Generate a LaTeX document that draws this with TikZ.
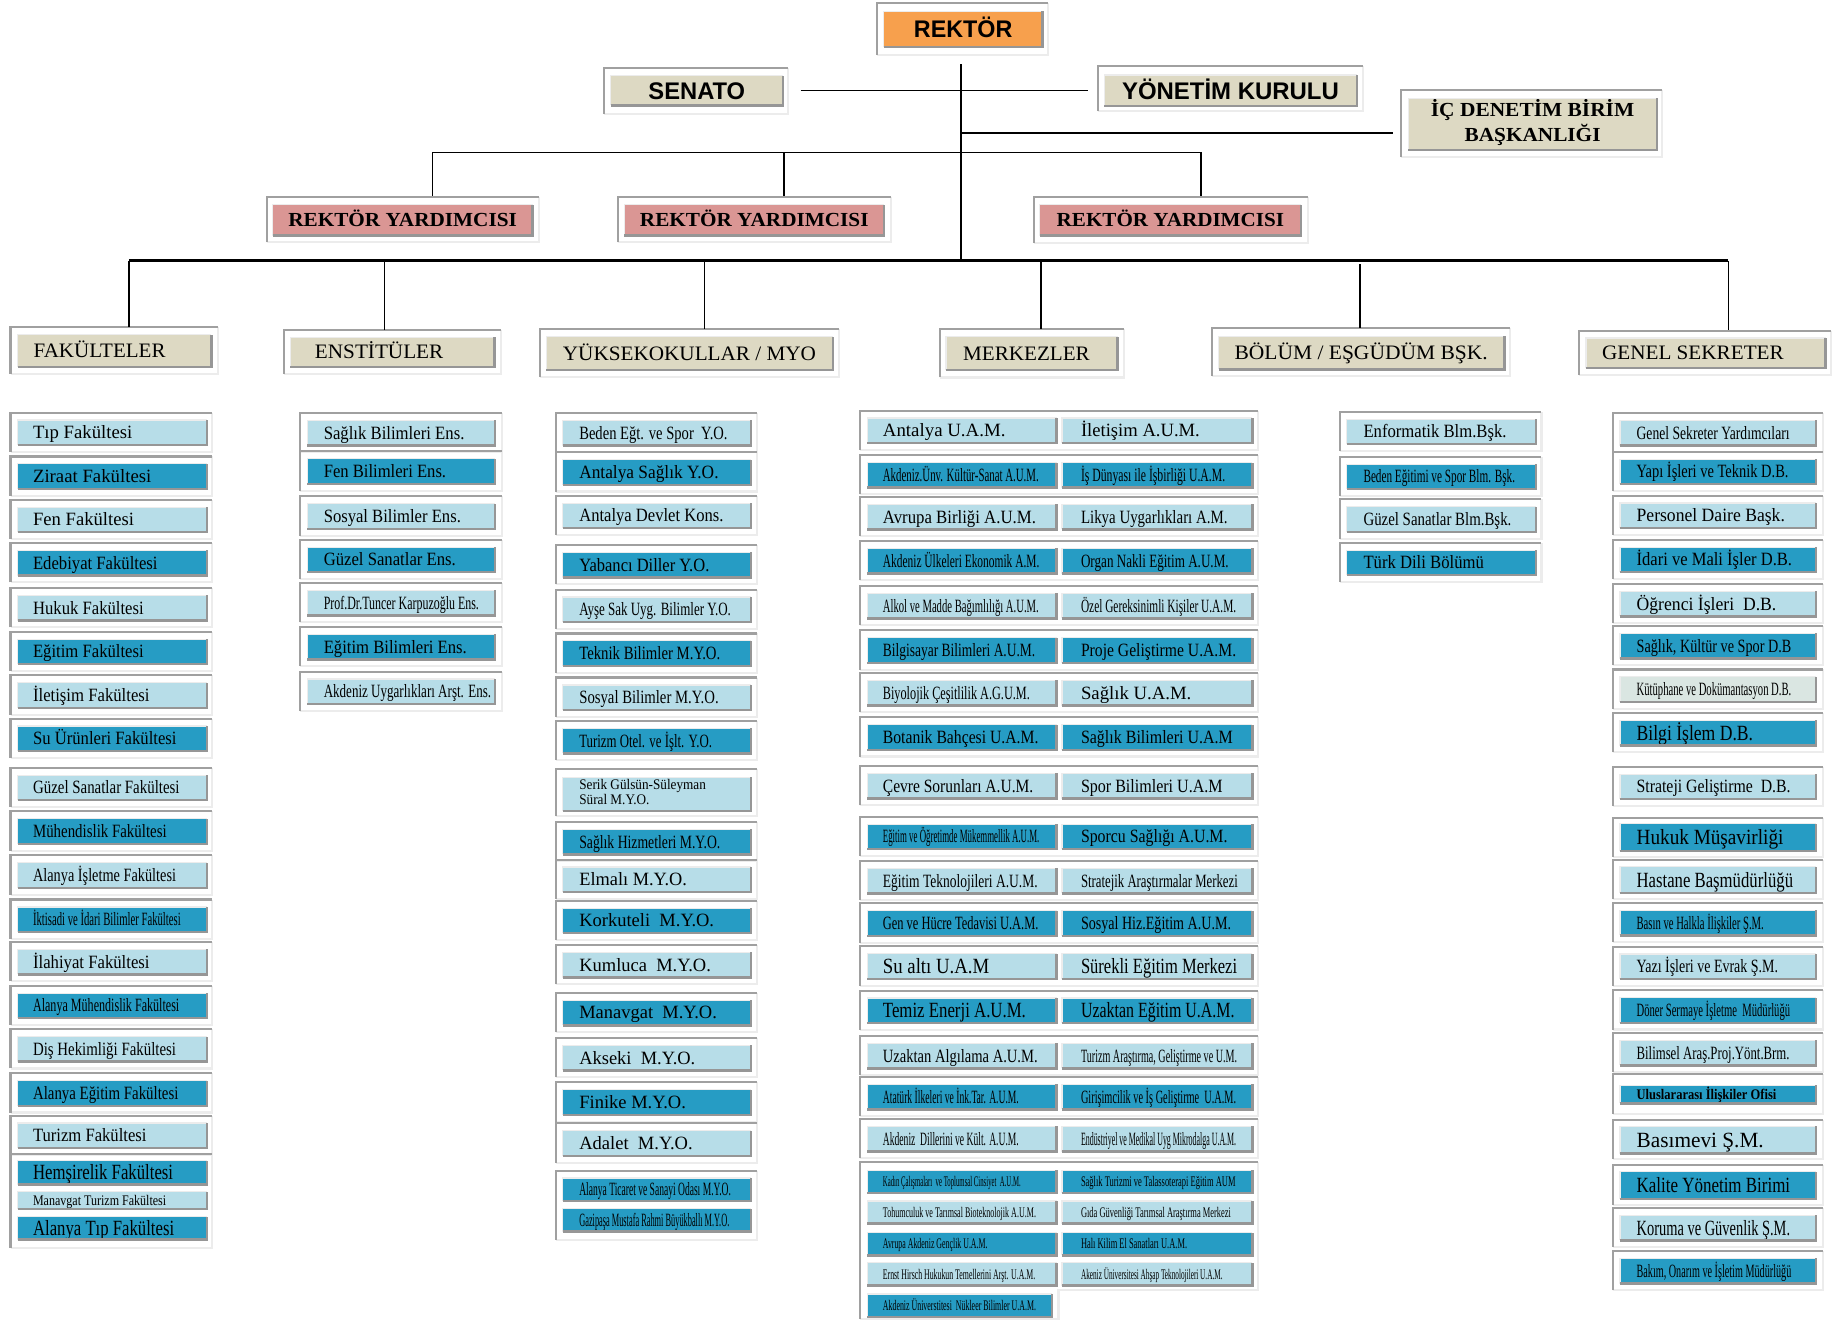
\documentclass[tikz,border=0pt]{standalone}
\usepackage{fontspec}
\usepackage{graphicx}
\setmainfont{Liberation Serif}
\newfontfamily\arialfont{Liberation Sans}
\definecolor{lightbar}{RGB}{183,221,232}
\definecolor{darkbar}{RGB}{38,156,196}
\definecolor{palebar}{RGB}{218,230,226}
\definecolor{beige}{RGB}{221,217,195}
\definecolor{rektor}{RGB}{247,160,77}
\definecolor{vicerektor}{RGB}{218,150,148}
\definecolor{framegray}{RGB}{160,160,160}
\definecolor{framelight}{RGB}{236,236,236}
\definecolor{shadegray}{RGB}{150,150,150}
\newsavebox{\fitbox}
% squeeze a label to the width it has in the chart
\newcommand{\fitto}[2]{\ifx\relax#1\relax#2\else\sbox\fitbox{#2}\resizebox{#1pt}{\height}{\usebox\fitbox}\fi}
\newcommand{\uframe}[4]{
  \draw[framelite] (#3,#2) -- (#3,#4) -- (#1,#4);
  \draw[framedark] (#1,#4) -- (#1,#2) -- (#3,#2);
}
\newcommand{\ubar}[8][]{
  \draw (#3,#4) node[bar,fill=#6,#1] (#2) {\makebox[#5pt][l]{\hspace*{\bpad pt}\fitto{#7}{#8}}};
  \draw[barlite] (#2.south west) -- (#2.north west) -- (#2.north east);
  \draw[barshade] (#2.south west) -- (#2.south east) -- (#2.north east);
}
\newcommand{\cbar}[7][]{
  \draw (#3,#4) node[bar,fill=#6,#1] (#2) {\makebox[#5pt]{#7}};
  \draw[barlite] (#2.south west) -- (#2.north west) -- (#2.north east);
  \draw[barshade] (#2.south west) -- (#2.south east) -- (#2.north east);
}
\newcommand{\orgunit}[6][]{
  \uframe{\fx}{#3-17}{\fx+\fw}{#3+16.5}
  \ubar[#1]{#2}{\fx+6}{#3}{\bw}{#4}{#5}{#6}
}
\newcommand{\pairbars}[8][]{
  \def\bpad{13}\ubar[#1]{#4l}{740}{#2}{161}{#3}{#5}{#6}
  \def\bpad{16}\ubar[#1]{#4r}{906}{#2}{162}{#3}{#7}{#8}
}
\newcommand{\pairrow}[8][]{
  \uframe{734}{#2-17}{1073}{#2+16.5}
  \pairbars[#1]{#2}{#3}{#4}{#5}{#6}{#7}{#8}
}
\tikzstyle{bar}=[inner sep=0pt, minimum height=21, anchor=west, font=\fontsize{16}{18}\selectfont, text height=10.6pt, text depth=0pt]
\tikzstyle{small}=[font=\fontsize{12.5}{13}\selectfont, text height=8.3pt]
\tikzstyle{big}=[font=\fontsize{18.5}{20}\selectfont, text height=12.3pt]
\tikzstyle{topbox}=[font=\arialfont\bfseries\fontsize{20.5}{22}\selectfont, text height=14.7pt]
\tikzstyle{vicebox}=[font=\bfseries\fontsize{17}{21}\selectfont, text height=11.3pt]
\tikzstyle{headbox}=[font=\fontsize{17.5}{20}\selectfont, text height=11.6pt]
\tikzset{framedark/.style={line width=1.8, color=framegray}}
\tikzset{framelite/.style={line width=1.8, color=framelight}}
\tikzset{barshade/.style={line width=2, color=shadegray}}
\tikzset{barlite/.style={line width=1, color=framelight}}
\tikzset{wire/.style={line width=1.5}}
\tikzset{bus/.style={line width=2.4}}
\tikzset{x=1pt}
\tikzset{y=-1pt}
\begin{document}
\begin{tikzpicture}
  \useasboundingbox (0,0) rectangle (1568,1126);
  %% Top management
  \uframe{748}{2.8}{894}{47}
  \cbar[topbox,minimum height=30]{rek}{754}{25}{135}{rektor}{\fitto{84}{REKTÖR}}
  \uframe{515}{58.3}{672.5}{97.2}
  \cbar[topbox,minimum height=25]{sen}{521}{77.2}{146.5}{beige}{\fitto{82.5}{SENATO}}
  \uframe{936.5}{56.3}{1163}{94.7}
  \cbar[topbox,minimum height=26]{yk}{942}{77.2}{215}{beige}{\fitto{185}{YÖNETİM KURULU}}
  \uframe{1195.5}{76.8}{1418}{133.6}
  \cbar[vicebox,minimum height=44,text height=,text depth=]{icd}{1201.5}{106}{211.5}{beige}{\begin{tabular}{@{}c@{}}\fitto{173.5}{İÇ DENETİM BİRİM}\\\fitto{116}{BAŞKANLIĞI}\end{tabular}}
  \uframe{227.5}{167.8}{460}{206.7}
  \cbar[vicebox,minimum height=26]{ry1}{232.5}{187.8}{221.5}{vicerektor}{\fitto{195}{REKTÖR YARDIMCISI}}
  \uframe{527.5}{167.8}{760}{206.7}
  \cbar[vicebox,minimum height=26]{ry2}{532.5}{187.8}{221.5}{vicerektor}{\fitto{195}{REKTÖR YARDIMCISI}}
  \uframe{882}{167.8}{1115.5}{207}
  \cbar[vicebox,minimum height=26]{ry3}{887}{187.8}{222.5}{vicerektor}{\fitto{194}{REKTÖR YARDIMCISI}}

  %% Group headers
  \uframe{9}{278.6}{186}{319}
  \def\bpad{13.5}\ubar[headbox,minimum height=27]{fak}{15}{299.3}{165}{beige}{112.5}{FAKÜLTELER}
  \uframe{242.5}{281.5}{427.5}{319}
  \def\bpad{21}\ubar[headbox,minimum height=25]{ens}{247.5}{300.4}{174}{beige}{109.5}{ENSTİTÜLER}
  \uframe{460.5}{281}{716}{321.3}
  \def\bpad{14}\ubar[headbox,minimum height=28]{yo}{466}{301.6}{244}{beige}{216}{YÜKSEKOKULLAR / MYO}
  \uframe{802}{281}{959}{322}
  \def\bpad{14.5}\ubar[headbox,minimum height=28]{mer}{807}{301.6}{146}{beige}{108}{MERKEZLER}
  \uframe{1034}{280}{1288}{320.7}
  \def\bpad{13.5}\ubar[headbox,minimum height=28]{bol}{1039.5}{301}{243.5}{beige}{216}{BÖLÜM / EŞGÜDÜM BŞK.}
  \uframe{1347}{282}{1562}{320}
  \def\bpad{13.5}\ubar[headbox,minimum height=25.4]{gs}{1353}{301.3}{204}{beige}{155}{GENEL SEKRETER}

  %% Connectors
  \coordinate (trunk) at (820,55);
  \coordinate (hub) at (820,222.5);
  \draw[wire] (trunk) -- (hub);
  \draw[wire] ([xshift=15]sen.east) -- ([xshift=-14]yk.west);
  \coordinate (icdin) at (1188,113.7);
  \draw[wire] (trunk |- icdin) -- (icdin);
  \coordinate (v1) at (369,130);
  \coordinate (v2) at (669,130);
  \coordinate (v3) at (1024.5,130);
  \draw[wire] (v1) -- (v3);
  \draw[wire,shorten >=7pt] (v1) -- (v1 |- ry1.north);
  \draw[wire,shorten >=7pt] (v2) -- (v2 |- ry2.north);
  \draw[wire,shorten >=7pt] (v3) -- (v3 |- ry3.north);
  \coordinate (j1) at (110,222.5);
  \coordinate (j2) at (328,222.5);
  \coordinate (j3) at (601,222.5);
  \coordinate (j4) at (888,222.5);
  \coordinate (j5) at (1160.5,222.5);
  \coordinate (j6) at (1474.5,222.5);
  \draw[bus] (j1) -- (j6);
  \draw[wire,shorten >=7pt] (j1) -- (j1 |- fak.north);
  \draw[wire,shorten >=6.5pt] (j2) -- (j2 |- ens.north);
  \draw[wire,shorten >=6.5pt] (j3) -- (j3 |- yo.north);
  \draw[wire,shorten >=6.5pt] (j4) -- (j4 |- mer.north);
  \draw[wire,shorten >=7pt] ([yshift=-3]j5) -- (j5 |- bol.north);
  \draw[wire,shorten >=6.5pt] (j6) -- (j6 |- gs.north);

  %% Fakulteler
  \def\fx{9}\def\fw{172}\def\bw{161}\def\bpad{13}
  \orgunit{fak1}{369}{lightbar}{84.7}{Tıp Fakültesi}
  \orgunit{fak2}{406.4}{darkbar}{100.9}{Ziraat Fakültesi}
  \orgunit{fak3}{443.4}{lightbar}{86.1}{Fen Fakültesi}
  \orgunit{fak4}{480.3}{darkbar}{106.2}{Edebiyat Fakültesi}
  \orgunit{fak5}{518.7}{lightbar}{94.4}{Hukuk Fakültesi}
  \orgunit{fak6}{556}{darkbar}{94.4}{Eğitim Fakültesi}
  \orgunit{fak7}{593.2}{lightbar}{99.4}{İletişim Fakültesi}
  \orgunit{fak8}{630}{darkbar}{122.4}{Su Ürünleri Fakültesi}
  \orgunit{fak9}{672}{lightbar}{125}{Güzel Sanatlar Fakültesi}
  \orgunit{fak10}{709.2}{darkbar}{114}{Mühendislik Fakültesi}
  \orgunit{fak11}{746.7}{lightbar}{122}{Alanya İşletme Fakültesi}
  \orgunit{fak12}{784.4}{darkbar}{126}{İktisadi ve İdari Bilimler Fakültesi}
  \orgunit{fak13}{820.6}{lightbar}{99.4}{İlahiyat Fakültesi}
  \orgunit{fak14}{857.9}{darkbar}{124.8}{Alanya Mühendislik Fakültesi}
  \orgunit{fak15}{895}{lightbar}{122}{Diş Hekimliği Fakültesi}
  \orgunit{fak16}{932.6}{darkbar}{124}{Alanya Eğitim Fakültesi}
  \orgunit{fak17}{968.7}{lightbar}{96.8}{Turizm Fakültesi}
  \uframe{9}{984.4}{181}{1064.3}
  \ubar[big,minimum height=20]{fak18}{15}{1000.3}{161}{darkbar}{119.5}{Hemşirelik Fakültesi}
  \ubar[small,minimum height=14.5]{fak19}{15}{1024.2}{161}{lightbar}{113.6}{Manavgat Turizm Fakültesi}
  \ubar[big,minimum height=19]{fak20}{15}{1047.8}{161}{darkbar}{120.4}{Alanya Tıp Fakültesi}

  %% Enstituler
  \def\fx{256}\def\fw{172}\def\bw{160}\def\bpad{14}
  \orgunit{ens1}{369.4}{lightbar}{120}{Sağlık Bilimleri Ens.}
  \orgunit{ens2}{402.1}{darkbar}{104.4}{Fen Bilimleri Ens.}
  \orgunit{ens3}{440.5}{lightbar}{117}{Sosyal Bilimler Ens.}
  \orgunit{ens4}{477.5}{darkbar}{112.7}{Güzel Sanatlar Ens.}
  \orgunit{ens5}{514.4}{lightbar}{132.4}{Prof.Dr.Tuncer Karpuzoğlu Ens.}
  \orgunit{ens6}{551.8}{darkbar}{122}{Eğitim Bilimleri Ens.}
  \orgunit{ens7}{590}{lightbar}{142.8}{Akdeniz Uygarlıkları Arşt. Ens.}

  %% Yuksekokullar / MYO
  \def\fx{474}\def\fw{172}\def\bw{160}\def\bpad{14}
  \orgunit{yo1}{369.4}{lightbar}{126.5}{Beden Eğt. ve Spor~ Y.O.}
  \orgunit{yo2}{402.8}{darkbar}{118.8}{Antalya Sağlık Y.O.}
  \orgunit{yo3}{440}{lightbar}{123}{Antalya Devlet Kons.}
  \orgunit{yo4}{482}{darkbar}{111}{Yabancı Diller Y.O.}
  \orgunit{yo5}{520}{lightbar}{129.4}{Ayşe Sak Uyg. Bilimler Y.O.}
  \orgunit{yo6}{557.4}{darkbar}{120.3}{Teknik Bilimler M.Y.O.}
  \orgunit{yo7}{595}{lightbar}{118.9}{Sosyal Bilimler M.Y.O.}
  \orgunit{yo8}{632}{darkbar}{113.2}{Turizm Otel. ve İşlt. Y.O.}
  \uframe{474}{656}{646}{696.4}
  \ubar[small,minimum height=28,text height=,text depth=]{yo9}{480}{677.4}{160}{lightbar}{108}{\begin{tabular}{@{}l@{}}Serik Gülsün-Süleyman\\Süral M.Y.O.\end{tabular}}
  \orgunit{yo10}{718.2}{darkbar}{120.3}{Sağlık Hizmetleri M.Y.O.}
  \orgunit{yo11}{750.4}{lightbar}{91.8}{Elmalı M.Y.O.}
  \orgunit{yo12}{785.5}{darkbar}{115}{Korkuteli~ M.Y.O.}
  \orgunit{yo13}{823.2}{lightbar}{112.3}{Kumluca~ M.Y.O.}
  \orgunit{yo14}{864}{darkbar}{117.4}{Manavgat~ M.Y.O.}
  \orgunit{yo15}{902.5}{lightbar}{99}{Akseki~ M.Y.O.}
  \orgunit{yo16}{940.3}{darkbar}{91}{Finike M.Y.O.}
  \orgunit{yo17}{975.3}{lightbar}{96.7}{Adalet~ M.Y.O.}
  \uframe{474}{998.6}{646}{1057.8}
  \ubar[minimum height=19]{yo18}{480}{1014.7}{160}{darkbar}{129.4}{Alanya Ticaret ve Sanayi Odası M.Y.O.}
  \ubar[minimum height=19]{yo19}{480}{1041}{160}{darkbar}{128}{Gazipaşa Mustafa Rahmi Büyükballı M.Y.O.}

  %% Merkezler
  \pairrow{367.3}{lightbar}{m1}{104.6}{Antalya U.A.M.}{101.4}{İletişim A.U.M.}
  \pairrow{405.3}{darkbar}{m2}{133}{Akdeniz.Ünv. Kültür-Sanat A.U.M.}{123}{İş Dünyası ile İşbirliği U.A.M.}
  \pairrow{441}{lightbar}{m3}{130.6}{Avrupa Birliği A.U.M.}{125}{Likya Uygarlıkları A.M.}
  \pairrow{478.6}{darkbar}{m4}{133.5}{Akdeniz Ülkeleri Ekonomik A.M.}{126}{Organ Nakli Eğitim A.U.M.}
  \pairrow{516.9}{lightbar}{m5}{133}{Alkol ve Madde Bağımlılığı A.U.M.}{132.4}{Özel Gereksinimli Kişiler U.A.M.}
  \pairrow{554.7}{darkbar}{m6}{130}{Bilgisayar Bilimleri A.U.M.}{132.4}{Proje Geliştirme U.A.M.}
  \pairrow{591.2}{lightbar}{m7}{125.4}{Biyolojik Çeşitlilik A.G.U.M.}{94.2}{Sağlık U.A.M.}
  \pairrow{628.9}{darkbar}{m8}{132.7}{Botanik Bahçesi U.A.M.}{129.5}{Sağlık Bilimleri U.A.M}
  \pairrow{670.5}{lightbar}{m9}{128.3}{Çevre Sorunları A.U.M.}{120.8}{Spor Bilimleri U.A.M}
  \pairrow{713.8}{darkbar}{m10}{133.5}{Eğitim ve Öğretimde Mükemmellik A.U.M.}{125}{Sporcu Sağlığı A.U.M.}
  \pairrow{751.4}{lightbar}{m11}{132}{Eğitim Teknolojileri A.U.M.}{133.8}{Stratejik Araştırmalar Merkezi}
  \pairrow{787.6}{darkbar}{m12}{132.7}{Gen ve Hücre Tedavisi U.A.M.}{128}{Sosyal Hiz.Eğitim A.U.M.}
  \pairrow[big]{824.3}{lightbar}{m13}{90.8}{Su altı U.A.M}{133.2}{Sürekli Eğitim Merkezi}
  \pairrow[big]{862.1}{darkbar}{m14}{122}{Temiz Enerji A.U.M.}{131}{Uzaktan Eğitim U.A.M.}
  \pairrow{900.8}{lightbar}{m15}{132}{Uzaktan Algılama A.U.M.}{133.2}{Turizm Araştırma, Geliştirme ve U.M.}
  \pairrow{935.8}{darkbar}{m16}{116}{Atatürk İlkeleri ve İnk.Tar. A.U.M.}{132.4}{Girişimcilik ve İş Geliştirme~ U.A.M.}
  \pairrow{971.7}{lightbar}{m17}{116}{Akdeniz~ Dillerini ve Kült. A.U.M.}{132.4}{Endüstriyel ve Medikal Uyg Mikrodalga U.A.M.}
  \draw[framelite] (1073,991.5) -- (1073,1100.4) -- (903,1100.4) -- (903,1125) -- (734,1125);
  \draw[framedark] (734,1125) -- (734,991.5) -- (1073,991.5);
  \pairbars[small,minimum height=19]{1008}{darkbar}{m18}{117.6}{Kadın Çalışmaları~ ve Toplumsal Cinsiyet~ A.U.M.}{131.8}{Sağlık Turizmi ve Talassoterapi Eğitim AUM}
  \pairbars[small,minimum height=19]{1034.2}{lightbar}{m19}{130.6}{Tohumculuk ve Tarımsal Bioteknolojik A.U.M.}{128}{Gıda Güvenliği Tarımsal Araştırma Merkezi}
  \pairbars[small,minimum height=19]{1061.3}{darkbar}{m20}{89.3}{Avrupa Akdeniz Gençlik U.A.M.}{90.5}{Halı Kilim El Sanatları U.A.M.}
  \pairbars[small,minimum height=19]{1087}{lightbar}{m21}{130}{Ernst Hirsch Hukukun Temellerini Arşt. U.A.M.}{120.8}{Akeniz Üniversitesi Ahşap Teknolojileri U.A.M.}
  \def\bpad{13}\ubar[small,minimum height=19]{m22l}{740}{1113.6}{157}{darkbar}{130.6}{Akdeniz Üniverstitesi~ Nükleer Bilimler U.A.M.}

  %% Bolum / esgudum
  \def\fx{1143}\def\fw{172}\def\bw{161}\def\bpad{14}
  \orgunit{bol1}{368.3}{lightbar}{122}{Enformatik Blm.Bşk.}
  \orgunit{bol2}{406.7}{darkbar}{129.3}{Beden Eğitimi ve Spor Blm. Bşk.}
  \orgunit{bol3}{443}{lightbar}{126.2}{Güzel Sanatlar Blm.Bşk.}
  \orgunit{bol4}{480}{darkbar}{102.7}{Türk Dili Bölümü}

  %% Genel sekreter
  \def\fx{1376}\def\fw{179}\def\bw{167}\def\bpad{14}
  \orgunit{gs1}{369.4}{lightbar}{130.5}{Genel Sekreter Yardımcıları}
  \orgunit{gs2}{402.4}{darkbar}{129.6}{Yapı İşleri ve Teknik D.B.}
  \orgunit{gs3}{439.8}{lightbar}{126.5}{Personel Daire Başk.}
  \orgunit{gs4}{477.5}{darkbar}{132.6}{İdari ve Mali İşler D.B.}
  \orgunit{gs5}{515.2}{lightbar}{119.2}{Öğrenci İşleri~ D.B.}
  \orgunit{gs6}{551.1}{darkbar}{132}{Sağlık, Kültür ve Spor D.B}
  \orgunit{gs7}{588.1}{palebar}{132}{Kütüphane ve Dokümantasyon D.B.}
  \orgunit[big]{gs8}{625.3}{darkbar}{99.4}{Bilgi İşlem D.B.}
  \orgunit{gs9}{671.1}{lightbar}{131.4}{Strateji Geliştirme~ D.B.}
  \orgunit[big,minimum height=23]{gs10}{714.5}{darkbar}{125.3}{Hukuk Müşavirliği}
  \orgunit[big,minimum height=22]{gs11}{750.7}{lightbar}{133.5}{Hastane Başmüdürlüğü}
  \orgunit{gs12}{787.3}{darkbar}{108.5}{Basın ve Halkla İlişkiler Ş.M.}
  \orgunit{gs13}{824.6}{lightbar}{120.7}{Yazı İşleri ve Evrak Ş.M.}
  \orgunit{gs14}{861.8}{darkbar}{131}{Döner Sermaye İşletme~ Müdürlüğü}
  \orgunit{gs15}{898.2}{lightbar}{130.5}{Bilimsel Araş.Proj.Yönt.Brm.}
  \orgunit[small,font=\bfseries\fontsize{12.5}{13}\selectfont,minimum height=15]{gs16}{933.6}{darkbar}{119.2}{Uluslararası İlişkiler Ofisi}
  \orgunit[big,minimum height=23]{gs17}{972.4}{lightbar}{108.5}{Basımevi Ş.M.}
  \orgunit[big,minimum height=23]{gs18}{1011.1}{darkbar}{131}{Kalite Yönetim Birimi}
  \orgunit[big]{gs19}{1047.5}{lightbar}{131}{Koruma ve Güvenlik Ş.M.}
  \orgunit{gs20}{1084.3}{darkbar}{132}{Bakım, Onarım ve İşletim Müdürlüğü}
\end{tikzpicture}
\end{document}
